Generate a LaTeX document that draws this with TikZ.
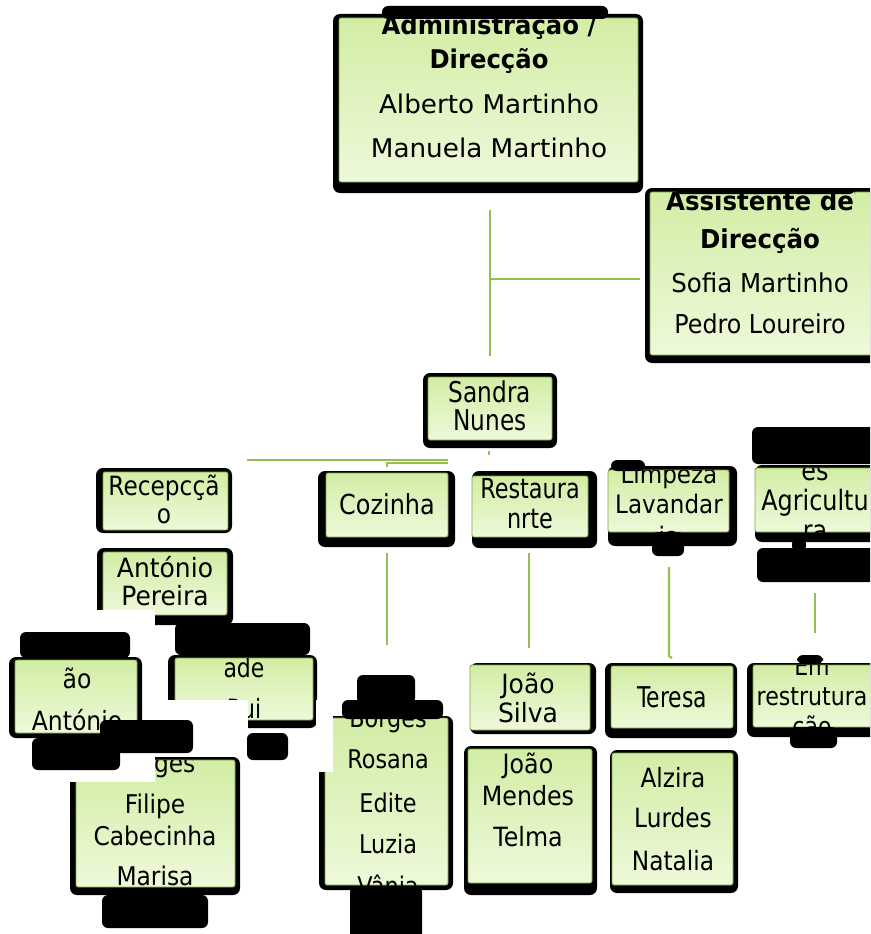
\documentclass[tikz,border=0pt]{standalone}
\usepackage{fontspec}
\setmainfont{DejaVu Sans}
\usepackage{graphicx}
\definecolor{lineg}{RGB}{150,190,80}
\definecolor{gtop}{RGB}{210,237,165}
\definecolor{gbot}{RGB}{238,249,218}
\definecolor{gedge}{RGB}{125,165,65}
\newcommand\orgbox[9]{%
  \fill[black,rounded corners=7pt] (#6,#7) rectangle (#8,#9);
  \node[gbox, minimum width={(#4-#2)*1pt}, minimum height={(#5-#3)*1pt}] (#1) at ({(#2+#4)/2},{(#3+#5)/2}) {};}
\newcommand\tline[6]{\node[tl] (#1) at (#2,#3) {\scalebox{#5}[1.06]{\fontsize{#4pt}{#4pt}\selectfont #6}};}
\begin{document}
\begin{tikzpicture}[x=1pt,y=-1pt,
  gbox/.style={draw=gedge, line width=0.8pt, top color=gtop, bottom color=gbot, rounded corners=2pt, inner sep=0pt, outer sep=0pt},
  conn/.style={draw=lineg, line width=2.2pt},
  blob/.style={fill=black, rounded corners=6pt},
  whitepatch/.style={fill=white},
  tl/.style={anchor=base, inner sep=0pt, outer sep=0pt, text=black}]
\clip (0,0) rectangle (870,934);
\fill[white] (0,0) rectangle (870,934);
% connectors
\coordinate (c1a) at (490,210); \coordinate (c1b) at (490,356);
\coordinate (c2a) at (490,279); \coordinate (c2b) at (640,279);
\coordinate (c3a) at (247,460); \coordinate (c3b) at (448,460);
\coordinate (c4a) at (387,467); \coordinate (c4b) at (387,463); \coordinate (c4c) at (448,463);
\coordinate (c5a) at (489,451); \coordinate (c5b) at (489,455);
\coordinate (c6a) at (387,553); \coordinate (c6b) at (387,645);
\coordinate (c7a) at (529,553); \coordinate (c7b) at (529,648);
\coordinate (c8a) at (669,567); \coordinate (c8b) at (669,656); \coordinate (c8c) at (672,658);
\coordinate (c9a) at (815,593); \coordinate (c9b) at (815,633);
\draw[conn] (c1a) -- (c1b);
\draw[conn] (c2a) -- (c2b);
\draw[conn] (c3a) -- (c3b);
\draw[conn] (c4a) -- (c4b) -- (c4c);
\draw[conn] (c5a) -- (c5b);
\draw[conn] (c6a) -- (c6b);
\draw[conn] (c7a) -- (c7b);
\draw[conn] (c8a) -- (c8b) -- (c8c);
\draw[conn] (c9a) -- (c9b);
% boxes
\orgbox{admin}{339}{18}{638}{182}{333}{14}{643}{193}
\orgbox{assist}{650}{192}{875}{355}{645}{188}{880}{363}
\orgbox{sandra}{428}{377}{552}{440}{423}{373}{557}{448}
\orgbox{recep}{103}{472}{228}{530}{96}{468}{232}{533}
\orgbox{cozinha}{326}{473}{448}{537}{318}{471}{455}{547}
\orgbox{restaur}{472}{476}{588}{537}{472}{471}{597}{548}
\orgbox{limpeza}{608}{470}{729}{532}{608}{466}{737}{546}
\orgbox{transp}{755}{468}{880}{532}{755}{465}{885}{542}
\orgbox{pereira}{103}{552}{227}{615}{97}{548}{233}{625}
\orgbox{animacao}{15}{660}{137}{733}{9}{657}{142}{738}
\orgbox{comunid}{175}{658}{313}{720}{168}{655}{317}{728}
\orgbox{filipe}{76}{760}{235}{887}{70}{757}{240}{895}
\orgbox{ana}{325}{718}{448}{885}{319}{716}{453}{890}
\orgbox{jsilva}{470}{665}{590}{730}{470}{663}{596}{734}
\orgbox{jmendes}{468}{749}{592}{883}{464}{746}{597}{895}
\orgbox{teresa}{611}{666}{733}{728}{605}{663}{737}{738}
\orgbox{emrest}{753}{665}{880}{727}{747}{663}{885}{737}
\orgbox{alzira}{612}{753}{733}{885}{610}{750}{738}{893}
% texts
\begin{scope}\clip (admin.south west) rectangle (admin.north east);
\tline{admin-1}{489}{35}{24.3}{1}{\bfseries Administração /}
\tline{admin-2}{489}{68}{24.3}{1}{\bfseries Direcção}
\tline{admin-3}{489}{113}{24.3}{1.08}{Alberto Martinho}
\tline{admin-4}{489}{157}{24.3}{1.08}{Manuela Martinho}
\end{scope}
\begin{scope}\clip (assist.south west) rectangle (assist.north east);
\tline{assist-1}{760}{210}{24.5}{1}{\bfseries Assistente de}
\tline{assist-2}{760}{248}{24.5}{1}{\bfseries Direcção}
\tline{assist-3}{760}{292}{24.5}{1}{Sofia Martinho}
\tline{assist-4}{760}{333}{24.5}{0.97}{Pedro Loureiro}
\end{scope}
\begin{scope}\clip (sandra.south west) rectangle (sandra.north east);
\tline{sandra-1}{490}{402}{27}{0.86}{Sandra}
\tline{sandra-2}{490}{430}{27}{0.86}{Nunes}
\end{scope}
\begin{scope}\clip (recep.south west) rectangle (recep.north east);
\tline{recep-1}{164}{495}{25}{0.93}{Recepcçã}
\tline{recep-2}{164}{523}{25}{0.93}{o}
\end{scope}
\begin{scope}\clip (cozinha.south west) rectangle (cozinha.north east);
\tline{cozinha-1}{387}{514}{26}{0.92}{Cozinha}
\end{scope}
\begin{scope}\clip (restaur.south west) rectangle (restaur.north east);
\tline{restaur-1}{530}{498}{26}{0.86}{Restaura}
\tline{restaur-2}{530}{528}{26}{0.86}{nrte}
\end{scope}
\begin{scope}\clip (limpeza.south west) rectangle (limpeza.north east);
\tline{limpeza-1}{669}{483}{24}{0.96}{Limpeza}
\tline{limpeza-2}{669}{513}{24}{0.96}{Lavandar}
\tline{limpeza-3}{669}{545}{24}{0.96}{ia}
\end{scope}
\begin{scope}\clip (transp.south west) rectangle (transp.north east);
\tline{transp-1}{815}{480}{26.5}{0.9}{es}
\tline{transp-2}{815}{510}{26.5}{0.9}{Agricultu}
\tline{transp-3}{815}{540}{26.5}{0.9}{ra}
\end{scope}
\begin{scope}\clip (pereira.south west) rectangle (pereira.north east);
\tline{pereira-1}{165}{577}{25}{1}{António}
\tline{pereira-2}{165}{605}{25}{1}{Pereira}
\end{scope}
\begin{scope}\clip (animacao.south west) rectangle (animacao.north east);
\tline{animacao-1}{77}{688}{25}{0.94}{ão}
\tline{animacao-2}{77}{730}{25}{0.94}{António}
\end{scope}
\begin{scope}\clip (comunid.south west) rectangle (comunid.north east);
\tline{comunid-1}{244}{677}{25}{0.88}{ade}
\tline{comunid-2}{244}{718}{25}{0.88}{Rui}
\end{scope}
\begin{scope}\clip (filipe.south west) rectangle (filipe.north east);
\tline{filipe-1}{155}{772}{24.3}{0.96}{Borges}
\tline{filipe-2}{155}{813}{24.3}{0.96}{Filipe}
\tline{filipe-3}{155}{845}{24.3}{0.96}{Cabecinha}
\tline{filipe-4}{155}{885}{24.3}{0.96}{Marisa}
\end{scope}
\begin{scope}\clip (ana.south west) rectangle (ana.north east);
\tline{ana-1}{388}{727}{24.3}{0.92}{Borges}
\tline{ana-2}{388}{768}{24.3}{0.92}{Rosana}
\tline{ana-3}{388}{812}{24.3}{0.92}{Edite}
\tline{ana-4}{388}{853}{24.3}{0.92}{Luzia}
\tline{ana-5}{388}{895}{24.3}{0.92}{Vânia}
\end{scope}
\begin{scope}\clip (jsilva.south west) rectangle (jsilva.north east);
\tline{jsilva-1}{528}{693}{25}{1}{João}
\tline{jsilva-2}{528}{722}{25}{1}{Silva}
\end{scope}
\begin{scope}\clip (jmendes.south west) rectangle (jmendes.north east);
\tline{jmendes-1}{528}{773}{25}{0.95}{João}
\tline{jmendes-2}{528}{805}{25}{0.95}{Mendes}
\tline{jmendes-3}{528}{846}{25}{0.95}{Telma}
\end{scope}
\begin{scope}\clip (teresa.south west) rectangle (teresa.north east);
\tline{teresa-1}{672}{707}{27}{0.81}{Teresa}
\end{scope}
\begin{scope}\clip (emrest.south west) rectangle (emrest.north east);
\tline{emrest-1}{812}{675}{24}{0.92}{Em}
\tline{emrest-2}{812}{705}{24}{0.92}{restrutura}
\tline{emrest-3}{812}{735}{24}{0.92}{ção}
\end{scope}
\begin{scope}\clip (alzira.south west) rectangle (alzira.north east);
\tline{alzira-1}{673}{787}{25}{0.93}{Alzira}
\tline{alzira-2}{673}{827}{25}{0.93}{Lurdes}
\tline{alzira-3}{673}{870}{25}{0.93}{Natalia}
\end{scope}
% white patches
\fill[whitepatch] (90,610) rectangle (155,632);
\fill[whitepatch] (150,700) rectangle (248,757);
\fill[whitepatch] (62,740) rectangle (155,782);
\fill[whitepatch] (316,700) rectangle (333,772);
% text shadow blobs
\fill[blob] (382,6) rectangle (608,19);
\fill[blob] (675,188) rectangle (855,194);
\fill[blob] (611,460) rectangle (645,471);
\fill[blob] (652,532) rectangle (684,556);
\fill[blob] (752,427) rectangle (875,464);
\fill[blob] (757,548) rectangle (875,582);
\fill[blob] (792,538) rectangle (806,552);
\fill[blob] (797,655) rectangle (823,664);
\fill[blob] (790,727) rectangle (837,748);
\fill[blob] (357,675) rectangle (415,704);
\fill[blob] (342,700) rectangle (443,719);
\fill[blob] (350,886) rectangle (422,940);
\fill[blob] (20,632) rectangle (130,658);
\fill[blob] (32,738) rectangle (120,770);
\fill[blob] (175,623) rectangle (310,655);
\fill[blob] (247,733) rectangle (288,760);
\fill[blob] (100,720) rectangle (193,753);
\fill[blob] (102,895) rectangle (208,928);
\end{tikzpicture}
\end{document}
